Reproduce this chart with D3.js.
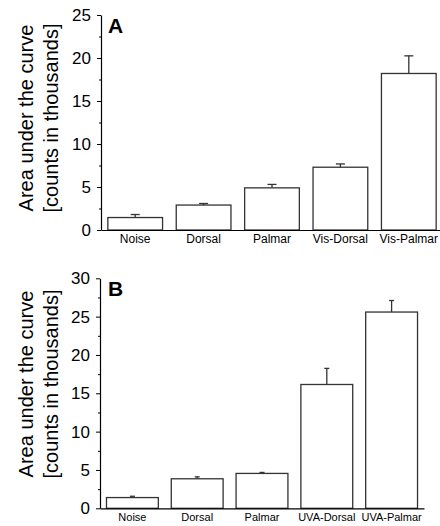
<!DOCTYPE html>
<html>
<head>
<meta charset="utf-8">
<script src="https://cdn.jsdelivr.net/npm/d3@7"></script>
<style>
  body { margin: 0; background: #fff; }
  svg { display: block; font-family: "Liberation Sans", Arial, sans-serif; }
</style>
</head>
<body>
<div id="chart"></div>
<script>
// panel A
const catsA = ['Noise', 'Dorsal', 'Palmar', 'Vis-Dorsal', 'Vis-Palmar'];
const valsA = [1.45, 2.9, 4.9, 7.3, 18.2];
const errA = [0.35, 0.18, 0.4, 0.38, 2.05];
const ticksA = [0, 5, 10, 15, 20, 25];

// panel B
const catsB = ['Noise', 'Dorsal', 'Palmar', 'UVA-Dorsal', 'UVA-Palmar'];
const valsB = [1.4, 3.85, 4.55, 16.15, 25.6];
const errB = [0.17, 0.25, 0.13, 2.1, 1.5];
const ticksB = [0, 5, 10, 15, 20, 25, 30];

const svg = d3.select('#chart')
    .append('svg')
    .attr('width', 440)
    .attr('height', 526);

function drawPanel(opts) {
    const { cats, vals, errs, ticks, letter, xRange, yRange, capW, labelSize, titleY } = opts;
    const yMax = ticks[ticks.length - 1];

    const x = d3.scaleBand()
        .domain(cats)
        .range(xRange)
        .paddingInner(0.2)
        .paddingOuter(0.1);

    const y = d3.scaleLinear()
        .domain([0, yMax])
        .range(yRange);

    const g = svg.append('g');

    // bars
    g.selectAll('.bar')
        .data(vals)
        .enter()
        .append('rect')
        .attr('x', (d, i) => x(cats[i]))
        .attr('y', d => y(d))
        .attr('width', x.bandwidth())
        .attr('height', d => y(0) - y(d))
        .attr('fill', '#fff')
        .attr('stroke', '#333')
        .attr('stroke-width', 1.3);

    // error bars (upper only)
    const cx = i => x(cats[i]) + x.bandwidth() / 2;
    g.selectAll('.err')
        .data(vals)
        .enter()
        .append('line')
        .attr('x1', (d, i) => cx(i))
        .attr('x2', (d, i) => cx(i))
        .attr('y1', d => y(d))
        .attr('y2', (d, i) => y(d + errs[i]))
        .attr('stroke', '#333')
        .attr('stroke-width', 1.3);

    g.selectAll('.cap')
        .data(vals)
        .enter()
        .append('line')
        .attr('x1', (d, i) => cx(i) - capW / 2)
        .attr('x2', (d, i) => cx(i) + capW / 2)
        .attr('y1', (d, i) => y(d + errs[i]))
        .attr('y2', (d, i) => y(d + errs[i]))
        .attr('stroke', '#333')
        .attr('stroke-width', 1.3);

    // x axis
    const xAxis = g.append('g')
        .attr('transform', `translate(0,${y(0)})`)
        .call(d3.axisBottom(x).tickSize(0).tickPadding(4.5));
    xAxis.select('.domain').attr('stroke', '#000').attr('stroke-width', 1.2);
    xAxis.selectAll('text')
        .style('font-size', labelSize + 'px')
        .attr('fill', '#000');

    // y axis, minor ticks
    g.append('g')
        .attr('transform', `translate(${xRange[0]},0)`)
        .call(d3.axisLeft(y)
            .tickValues(d3.range(2.5, yMax, 5))
            .tickSize(2)
            .tickFormat(''))
        .call(a => a.select('.domain').remove());

    // y axis, major ticks
    const yAxis = g.append('g')
        .attr('transform', `translate(${xRange[0]},0)`)
        .call(d3.axisLeft(y)
            .tickValues(ticks)
            .tickSize(4)
            .tickSizeOuter(0)
            .tickPadding(6));
    yAxis.select('.domain').attr('stroke', '#000').attr('stroke-width', 1.2);
    yAxis.selectAll('text')
        .style('font-size', '17px')
        .attr('fill', '#000');

    // y title
    const title = g.append('text')
        .attr('transform', `translate(33,${titleY}) rotate(-90)`)
        .attr('text-anchor', 'middle')
        .style('font-size', '20px')
        .attr('fill', '#000');
    title.append('tspan').attr('x', 0).attr('y', 0).text('Area under the curve');
    title.append('tspan').attr('x', 0).attr('y', 24.6).text('[counts in thousands]');

    // panel letter
    g.append('text')
        .attr('x', 108)
        .attr('y', yRange[1] + 18)
        .style('font-size', '21px')
        .style('font-weight', 'bold')
        .attr('fill', '#000')
        .text(letter);
}

drawPanel({
    cats: catsA, vals: valsA, errs: errA, ticks: ticksA, letter: 'A',
    xRange: [101, 443], yRange: [230, 15], capW: 9, labelSize: 12, titleY: 118
});

drawPanel({
    cats: catsB, vals: valsB, errs: errB, ticks: ticksB, letter: 'B',
    xRange: [100, 424], yRange: [508.3, 278.3], capW: 5, labelSize: 11, titleY: 384
});
</script>
</body>
</html>
